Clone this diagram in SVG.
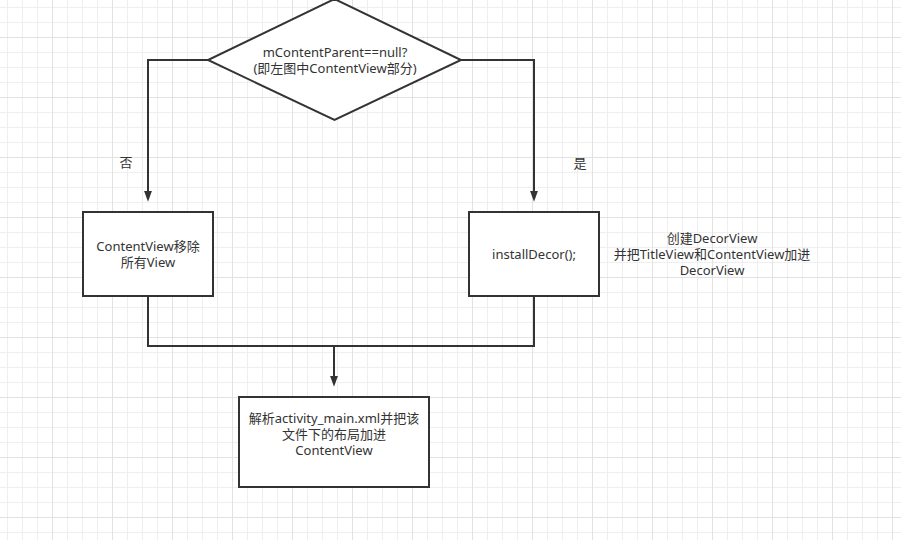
<svg xmlns="http://www.w3.org/2000/svg" width="901" height="540" viewBox="0 0 901 540">
<defs>
  <pattern id="grid" x="52" y="37" width="60" height="60" patternUnits="userSpaceOnUse">
    <rect x="0" y="0" width="60" height="60" fill="#ffffff"/>
    <rect x="15" y="0" width="1" height="60" fill="#efefef"/>
    <rect x="30" y="0" width="1" height="60" fill="#efefef"/>
    <rect x="45" y="0" width="1" height="60" fill="#efefef"/>
    <rect x="0" y="15" width="60" height="1" fill="#efefef"/>
    <rect x="0" y="30" width="60" height="1" fill="#efefef"/>
    <rect x="0" y="45" width="60" height="1" fill="#efefef"/>
    <rect x="0" y="0" width="1" height="60" fill="#e2e2e2"/>
    <rect x="0" y="0" width="60" height="1" fill="#e2e2e2"/>
  </pattern>
  <marker id="arrow" markerWidth="11" markerHeight="15" refX="10" refY="5.5" orient="auto" markerUnits="userSpaceOnUse" viewBox="0 0 15 11">
    <path d="M0,0 L15,5.5 L0,11 z" fill="#333333"/>
  </marker>
</defs>
<style>
  .shape { fill: #ffffff; stroke: #333333; stroke-width: 2; }
  .conn { fill: none; stroke: #333333; stroke-width: 2; }
  .t { font-family: "Noto Sans", "Noto Sans CJK SC", sans-serif; font-size: 13px; fill: #333333; text-anchor: middle; }
</style>
<rect x="0" y="0" width="901" height="540" fill="url(#grid)"/>

<g id="connectors">
  <path class="conn" d="M208,60 H148 V198" marker-end="url(#arrow)"/>
  <path class="conn" d="M461,60 H534 V198" marker-end="url(#arrow)"/>
  <path class="conn" d="M148,297 V346 H534 V297"/>
  <path class="conn" d="M334,346 V383" marker-end="url(#arrow)"/>
</g>

<g id="decision">
  <polygon class="shape" points="334.5,-1 461,60 334.5,120 208,60"/>
  <text class="t" x="335" y="57">mContentParent==null?</text>
  <text class="t" x="335" y="73">(即左图中ContentView部分)</text>
</g>

<g id="label-no">
  <text class="t" x="126" y="167">否</text>
</g>
<g id="label-yes">
  <text class="t" x="580" y="168">是</text>
</g>

<g id="remove-views">
  <rect class="shape" x="83" y="212" width="130" height="84"/>
  <text class="t" x="148" y="251">ContentView移除</text>
  <text class="t" x="148" y="267">所有View</text>
</g>

<g id="install-decor">
  <rect class="shape" x="469" y="212" width="130" height="84"/>
  <text class="t" x="534" y="259">installDecor();</text>
</g>

<g id="note">
  <text class="t" x="712" y="243">创建DecorView</text>
  <text class="t" x="712" y="259">并把TitleView和ContentView加进</text>
  <text class="t" x="712" y="275">DecorView</text>
</g>

<g id="parse-layout">
  <rect class="shape" x="239" y="397" width="190" height="90"/>
  <text class="t" x="334" y="423">解析activity_main.xml并把该</text>
  <text class="t" x="334" y="439">文件下的布局加进</text>
  <text class="t" x="334" y="455">ContentView</text>
</g>
</svg>
